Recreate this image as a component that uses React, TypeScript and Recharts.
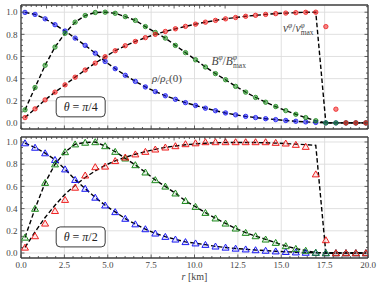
import {
  CartesianGrid,
  ComposedChart,
  Label,
  Line,
  ReferenceDot,
  XAxis,
  YAxis,
} from "recharts";

// radial samples [km]
const radiusKm = [
  0.23, 0.81, 1.39, 1.96, 2.54, 3.12, 3.7, 4.28, 4.85, 5.43, 6.01, 6.59, 7.17,
  7.74, 8.32, 8.9, 9.48, 10.06, 10.63, 11.21, 11.79, 12.37, 12.95, 13.52, 14.1,
  14.68, 15.26, 15.84, 16.41, 16.99, 17.57, 18.15, 18.73, 19.3, 19.88,
];

// theta = pi/4
const rhoQuarter = [
  0.998, 0.98, 0.94, 0.887, 0.83, 0.766, 0.7, 0.63, 0.555, 0.49, 0.43, 0.375,
  0.325, 0.283, 0.245, 0.213, 0.183, 0.157, 0.133, 0.11, 0.09, 0.073, 0.059,
  0.048, 0.038, 0.03, 0.022, 0.015, 0.009, 0.004, 0, 0, 0, 0, 0,
];
const bQuarter = [
  0.118, 0.32, 0.52, 0.685, 0.81, 0.91, 0.97, 0.997, 1.0, 0.99, 0.96, 0.926,
  0.87, 0.817, 0.766, 0.7, 0.635, 0.57, 0.505, 0.445, 0.39, 0.33, 0.278, 0.23,
  0.187, 0.148, 0.111, 0.078, 0.048, 0.02, 0, 0, 0, 0, 0,
];
const vQuarter = [
  0.048, 0.127, 0.208, 0.278, 0.344, 0.413, 0.478, 0.54, 0.598, 0.652, 0.697,
  0.736, 0.77, 0.8, 0.826, 0.85, 0.872, 0.892, 0.91, 0.926, 0.94, 0.952, 0.963,
  0.972, 0.98, 0.987, 0.992, 0.996, 0.999, 1.0, 0.87, 0.124, 0, 0, 0,
];
const vQuarterFit = [
  0.048, 0.127, 0.208, 0.278, 0.344, 0.413, 0.478, 0.54, 0.598, 0.652, 0.697,
  0.736, 0.77, 0.8, 0.826, 0.85, 0.872, 0.892, 0.91, 0.926, 0.94, 0.952, 0.963,
  0.972, 0.98, 0.987, 0.992, 0.996, 0.999, 1.0, 0, 0, 0, 0, 0,
];

// theta = pi/2
const rhoHalf = [
  0.99, 0.95, 0.9, 0.84, 0.755, 0.66, 0.58, 0.5, 0.43, 0.37, 0.31, 0.26, 0.216,
  0.177, 0.147, 0.123, 0.1, 0.088, 0.075, 0.06, 0.05, 0.041, 0.034, 0.027,
  0.022, 0.016, 0.011, 0.007, 0.004, 0.002, 0, 0, 0, 0, 0,
];
const bHalf = [
  0.14, 0.4, 0.633, 0.8, 0.91, 0.98, 0.995, 1.0, 0.964, 0.913, 0.853, 0.793,
  0.727, 0.658, 0.6, 0.538, 0.47, 0.417, 0.363, 0.313, 0.267, 0.222, 0.183,
  0.153, 0.123, 0.093, 0.063, 0.039, 0.022, 0.004, 0, 0, 0, 0, 0,
];
const vHalf = [
  0.05, 0.153, 0.267, 0.38, 0.48, 0.59, 0.7, 0.775, 0.78, 0.83, 0.862, 0.89,
  0.913, 0.934, 0.952, 0.964, 0.982, 0.99, 1.0, 1.0, 1.0, 1.0, 1.0, 1.0, 1.0,
  0.994, 0.988, 0.976, 0.958, 0.71, 0.117, 0, 0, 0, 0,
];
const vHalfFit = [
  0.05, 0.19, 0.32, 0.43, 0.53, 0.61, 0.68, 0.74, 0.79, 0.83, 0.862, 0.89,
  0.913, 0.934, 0.952, 0.964, 0.975, 0.983, 0.989, 0.993, 0.995, 0.996, 0.996,
  0.995, 0.993, 0.99, 0.986, 0.981, 0.976, 0.97, 0, 0, 0, 0, 0,
];

const xMajorTicks = [0, 2.5, 5, 7.5, 10, 12.5, 15, 17.5, 20];
const yMajorTicks = [0, 0.2, 0.4, 0.6, 0.8, 1.0];
const xAllTicks = Array.from({ length: 41 }, (_, i) => i / 2);
const yAllTicks = Array.from({ length: 23 }, (_, i) => (i - 1) / 20);

const BLUE = "#1c1cf2";
const GREEN = "#1f8a1f";
const RED = "#ee2020";
const AXIS = "#3c3c3c";
const GRID = "#dcdcdc";
const INK = "#444";
const FONT = "Liberation Serif";

type Row = { r: number; rho: number; b: number; v: number; vFit: number };

const toRows = (rho: number[], b: number[], v: number[], vFit: number[]): Row[] =>
  radiusKm.map((r, i) => ({ r, rho: rho[i], b: b[i], v: v[i], vFit: vFit[i] }));

const isMajorX = (v: number) => xMajorTicks.some((t) => Math.abs(t - v) < 1e-6);
const isMajorY = (v: number) => yMajorTicks.some((t) => Math.abs(t - v) < 1e-6);

const circleDot = (color: string) => (p: any) => (
  <circle
    key={`c${p.index}`}
    cx={p.cx}
    cy={p.cy}
    r={2.2}
    fill={color}
    fillOpacity={0.55}
    stroke={color}
    strokeWidth={0.8}
  />
);

const triangleDot = (color: string) => (p: any) => (
  <path
    key={`t${p.index}`}
    d={`M${p.cx},${p.cy - 3.3}L${p.cx + 3.5},${p.cy + 2.7}L${p.cx - 3.5},${p.cy + 2.7}Z`}
    fill={color}
    fillOpacity={0.1}
    stroke={color}
    strokeWidth={1}
  />
);

const bottomTick = (labels: boolean) => (p: any) => {
  const v = p.payload.value;
  const major = isMajorX(v);
  return (
    <g>
      <line x1={p.x} x2={p.x} y1={p.y} y2={p.y - (major ? 3.5 : 2)} stroke={AXIS} strokeWidth={0.8} />
      {labels && major && (
        <text x={p.x} y={p.y + 9.5} textAnchor="middle" fontSize={9} fill={INK} fontFamily={FONT}>
          {v.toFixed(1)}
        </text>
      )}
    </g>
  );
};

const topTick = (p: any) => {
  const major = isMajorX(p.payload.value);
  return <line x1={p.x} x2={p.x} y1={p.y} y2={p.y + (major ? 3.5 : 2)} stroke={AXIS} strokeWidth={0.8} />;
};

const leftTick = (p: any) => {
  const v = p.payload.value;
  const major = isMajorY(v);
  return (
    <g>
      <line x1={p.x} x2={p.x + (major ? 3.5 : 2)} y1={p.y} y2={p.y} stroke={AXIS} strokeWidth={0.8} />
      {major && (
        <text x={p.x - 3.5} y={p.y + 3.2} textAnchor="end" fontSize={9} fill={INK} fontFamily={FONT}>
          {v.toFixed(1)}
        </text>
      )}
    </g>
  );
};

const rightTick = (p: any) => {
  const major = isMajorY(p.payload.value);
  return <line x1={p.x} x2={p.x - (major ? 3.5 : 2)} y1={p.y} y2={p.y} stroke={AXIS} strokeWidth={0.8} />;
};

const angleBox = (denominator: string) => (p: any) => (
  <g>
    <rect x={p.cx - 24.5} y={p.cy - 10} width={49} height={20} rx={4} fill="#fff" stroke="#222" strokeWidth={0.9} />
    <text x={p.cx} y={p.cy + 4} textAnchor="middle" fontSize={12} fill="#222" fontFamily={FONT}>
      <tspan fontStyle="italic">θ</tspan> = <tspan fontStyle="italic">π</tspan>/{denominator}
    </text>
  </g>
);

const rhoLabel = (p: any) => (
  <text x={p.cx} y={p.cy} textAnchor="middle" fontSize={11} fill={INK} fontFamily={FONT}>
    <tspan fontStyle="italic">ρ</tspan>/<tspan fontStyle="italic">ρ</tspan>
    <tspan fontSize={7.5} dy={2} fontStyle="italic">c</tspan>
    <tspan dy={-2}>(0)</tspan>
  </text>
);

const ratioLabel = (sym: string) => (p: any) => (
  <text x={p.cx} y={p.cy} textAnchor="middle" fontSize={11.5} fill={INK} fontFamily={FONT}>
    <tspan fontStyle="italic">{sym}</tspan>
    <tspan fontSize={7.5} dy={-4.5} fontStyle="italic">φ</tspan>
    <tspan dy={4.5}>/</tspan>
    <tspan fontStyle="italic">{sym}</tspan>
    <tspan fontSize={7.5} dy={-4.5} fontStyle="italic">φ</tspan>
    <tspan fontSize={7.5} dx={-4} dy={7.5}>max</tspan>
  </text>
);

type PanelProps = {
  rows: Row[];
  height: number;
  margin: { top: number; right: number; bottom: number; left: number };
  yDomain: [number, number];
  marker: "circle" | "triangle";
  angle: string;
  bottom: boolean;
};

function Panel({ rows, height, margin, yDomain, marker, angle, bottom }: PanelProps) {
  const dot = marker === "circle" ? circleDot : triangleDot;
  const yTicks = yAllTicks.filter((t) => t >= yDomain[0] && t <= yDomain[1]);
  return (
    <ComposedChart width={382} height={height} data={rows} margin={margin} style={{ fontFamily: FONT }}>
      <CartesianGrid
        xAxisId="x"
        yAxisId="y"
        stroke={GRID}
        strokeWidth={0.9}
        verticalValues={xMajorTicks}
        horizontalValues={yMajorTicks}
      />
      <XAxis
        xAxisId="x"
        dataKey="r"
        type="number"
        domain={[0, 20]}
        allowDataOverflow
        ticks={xAllTicks}
        interval={0}
        height={1}
        tickSize={0}
        tickMargin={0}
        tickLine={false}
        axisLine={{ stroke: AXIS, strokeWidth: 1.3 }}
        tick={bottomTick(bottom)}
      >
        {bottom && (
          <Label
            content={(p: any) => (
              <text
                x={p.viewBox.x + p.viewBox.width / 2}
                y={p.viewBox.y + 22}
                textAnchor="middle"
                fontSize={10}
                fill={INK}
                fontFamily={FONT}
              >
                <tspan fontStyle="italic">r</tspan> [km]
              </text>
            )}
          />
        )}
      </XAxis>
      <XAxis
        xAxisId="xt"
        orientation="top"
        type="number"
        domain={[0, 20]}
        allowDataOverflow
        ticks={xAllTicks}
        interval={0}
        height={1}
        tickSize={0}
        tickMargin={0}
        tickLine={false}
        axisLine={{ stroke: AXIS, strokeWidth: 1.3 }}
        tick={topTick}
      />
      <YAxis
        yAxisId="y"
        type="number"
        domain={yDomain}
        allowDataOverflow
        ticks={yTicks}
        interval={0}
        width={1}
        tickSize={0}
        tickMargin={0}
        tickLine={false}
        axisLine={{ stroke: AXIS, strokeWidth: 1.3 }}
        tick={leftTick}
      />
      <YAxis
        yAxisId="yr"
        orientation="right"
        type="number"
        domain={yDomain}
        allowDataOverflow
        ticks={yTicks}
        interval={0}
        width={1}
        tickSize={0}
        tickMargin={0}
        tickLine={false}
        axisLine={{ stroke: AXIS, strokeWidth: 1.3 }}
        tick={rightTick}
      />

      <Line xAxisId="x" yAxisId="y" dataKey="rho" stroke="none" dot={dot(BLUE)} activeDot={false} isAnimationActive={false} />
      <Line xAxisId="x" yAxisId="y" dataKey="b" stroke="none" dot={dot(GREEN)} activeDot={false} isAnimationActive={false} />
      <Line xAxisId="x" yAxisId="y" dataKey="v" stroke="none" dot={dot(RED)} activeDot={false} isAnimationActive={false} />

      <Line xAxisId="x" yAxisId="y" dataKey="rho" stroke="#000" strokeWidth={1.4} strokeDasharray="4.5 2.5" dot={false} activeDot={false} isAnimationActive={false} />
      <Line xAxisId="x" yAxisId="y" dataKey="b" stroke="#000" strokeWidth={1.4} strokeDasharray="4.5 2.5" dot={false} activeDot={false} isAnimationActive={false} />
      <Line xAxisId="x" yAxisId="y" dataKey="vFit" stroke="#000" strokeWidth={1.4} strokeDasharray="4.5 2.5" dot={false} activeDot={false} isAnimationActive={false} />

      <ReferenceDot xAxisId="x" yAxisId="y" x={3.44} y={0.145} shape={angleBox(angle)} />
      {!bottom && <ReferenceDot xAxisId="x" yAxisId="y" x={8.41} y={0.371} shape={rhoLabel} />}
      {!bottom && <ReferenceDot xAxisId="x" yAxisId="y" x={11.97} y={0.525} shape={ratioLabel("B")} />}
      {!bottom && <ReferenceDot xAxisId="x" yAxisId="y" x={15.98} y={0.819} shape={ratioLabel("v")} />}
    </ComposedChart>
  );
}

export default function App() {
  return (
    <div style={{ position: "absolute", left: 0, top: 0, width: 382, height: 289, background: "#fff", fontFamily: FONT }}>
      <div style={{ position: "absolute", left: 0, top: 0 }}>
        <Panel
          rows={toRows(rhoQuarter, bQuarter, vQuarter, vQuarterFit)}
          height={135}
          margin={{ top: 4, right: 13, bottom: 5, left: 20 }}
          yDomain={[-0.055, 1.065]}
          marker="circle"
          angle="4"
          bottom={false}
        />
      </div>
      <div style={{ position: "absolute", left: 0, top: 133 }}>
        <Panel
          rows={toRows(rhoHalf, bHalf, vHalf, vHalfFit)}
          height={156}
          margin={{ top: 3, right: 13, bottom: 30, left: 20 }}
          yDomain={[-0.045, 1.045]}
          marker="triangle"
          angle="2"
          bottom
        />
      </div>
    </div>
  );
}
